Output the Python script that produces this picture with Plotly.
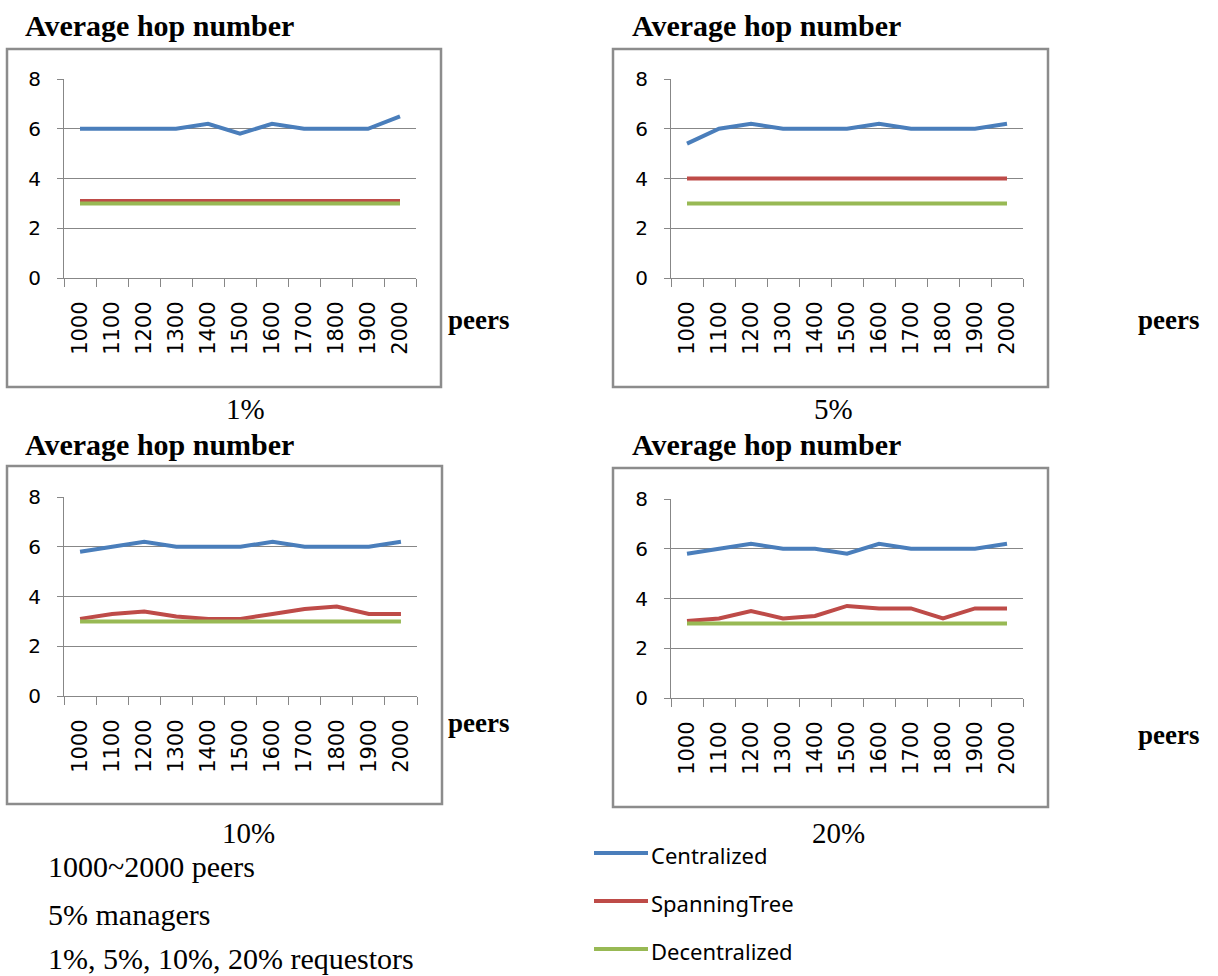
import plotly.graph_objects as go

W, H = 1218, 976

peers = ["1000", "1100", "1200", "1300", "1400", "1500",
         "1600", "1700", "1800", "1900", "2000"]

# requestor share per panel
panel_labels = ["1%", "5%", "10%", "20%"]

# Centralized average hop number
central_1 = [6.0, 6.0, 6.0, 6.0, 6.2, 5.8, 6.2, 6.0, 6.0, 6.0, 6.5]
central_5 = [5.4, 6.0, 6.2, 6.0, 6.0, 6.0, 6.2, 6.0, 6.0, 6.0, 6.2]
central_10 = [5.8, 6.0, 6.2, 6.0, 6.0, 6.0, 6.2, 6.0, 6.0, 6.0, 6.2]
central_20 = [5.8, 6.0, 6.2, 6.0, 6.0, 5.8, 6.2, 6.0, 6.0, 6.0, 6.2]

# SpanningTree average hop number
span_1 = [3.1, 3.1, 3.1, 3.1, 3.1, 3.1, 3.1, 3.1, 3.1, 3.1, 3.1]
span_5 = [4.0, 4.0, 4.0, 4.0, 4.0, 4.0, 4.0, 4.0, 4.0, 4.0, 4.0]
span_10 = [3.1, 3.3, 3.4, 3.2, 3.1, 3.1, 3.3, 3.5, 3.6, 3.3, 3.3]
span_20 = [3.1, 3.2, 3.5, 3.2, 3.3, 3.7, 3.6, 3.6, 3.2, 3.6, 3.6]

# Decentralized average hop number
decen_1 = [3, 3, 3, 3, 3, 3, 3, 3, 3, 3, 3]
decen_5 = [3, 3, 3, 3, 3, 3, 3, 3, 3, 3, 3]
decen_10 = [3, 3, 3, 3, 3, 3, 3, 3, 3, 3, 3]
decen_20 = [3, 3, 3, 3, 3, 3, 3, 3, 3, 3, 3]

series_names = ["Centralized", "SpanningTree", "Decentralized"]
series_colors = {"Centralized": "#4A7EBB",
                 "SpanningTree": "#BE4B48",
                 "Decentralized": "#98B954"}

panel_data = [
    (central_1, span_1, decen_1),
    (central_5, span_5, decen_5),
    (central_10, span_10, decen_10),
    (central_20, span_20, decen_20),
]

y_ticks = [0, 2, 4, 6, 8]

notes = ["1000~2000 peers", "5% managers", "1%, 5%, 10%, 20% requestors"]


def px(x):
    return x / W


def py(y):
    return 1 - y / H


# pixel layout of each panel: plot area (left, right, top(8), bottom(0)),
# frame box, and label anchors
panels = [
    dict(plot=(64, 416, 79, 278), box=(7, 441, 49, 387),
         title=(24, 25), peers=(447, 320), pct=(245, 409)),
    dict(plot=(671, 1023, 79, 278), box=(613, 1048, 49, 387),
         title=(631, 25), peers=(1137, 320), pct=(833, 409)),
    dict(plot=(64, 417, 497, 696), box=(7, 442, 466, 804),
         title=(24, 444), peers=(447, 723), pct=(248, 833)),
    dict(plot=(671, 1023, 499, 698), box=(613, 1048, 468, 807),
         title=(631, 444), peers=(1137, 735), pct=(838, 833)),
]

GRID = "#878787"
SERIF = "Liberation Serif, Times New Roman, serif"
TICKFONT = "DejaVu Sans, sans-serif"

fig = go.Figure()
layout = dict(
    width=W, height=H,
    margin=dict(l=0, r=0, t=0, b=0, pad=0, autoexpand=False),
    paper_bgcolor="white", plot_bgcolor="white",
    showlegend=False,
)
shapes = []
annotations = []

for i, (p, data) in enumerate(zip(panels, panel_data)):
    n = "" if i == 0 else str(i + 1)
    xa, ya = "x" + n, "y" + n
    l, r, t, b = p["plot"]
    for name, vals in zip(series_names, data):
        fig.add_trace(go.Scatter(
            x=peers, y=vals, mode="lines", name=name,
            line=dict(color=series_colors[name], width=4),
            xaxis=xa, yaxis=ya, hoverinfo="x+y+name",
        ))
    layout["xaxis" + n] = dict(
        domain=[px(l), px(r)], anchor=ya, type="category",
        range=[-0.5, len(peers) - 0.5], automargin=False,
        showgrid=False, zeroline=False,
        showline=True, linecolor=GRID, linewidth=1,
        ticks="outside", ticklen=8, tickcolor=GRID, tickwidth=1,
        tickson="boundaries", tickangle=-90,
        ticklabelstandoff=14,
        tickfont=dict(family=TICKFONT, size=21, color="black"),
    )
    layout["yaxis" + n] = dict(
        domain=[py(b), py(t)], anchor=xa, automargin=False,
        range=[0, 8], tickvals=y_ticks,
        showgrid=True, gridcolor=GRID, gridwidth=1,
        zeroline=False,
        showline=True, linecolor=GRID, linewidth=1,
        ticks="outside", ticklen=6, tickcolor=GRID, tickwidth=1,
        ticklabelstandoff=12,
        tickfont=dict(family=TICKFONT, size=20, color="black"),
    )
    bl, br, bt, bb = p["box"]
    shapes.append(dict(type="rect", xref="paper", yref="paper",
                       x0=px(bl), x1=px(br), y0=py(bb), y1=py(bt),
                       line=dict(color="#8C8C8C", width=2.5),
                       layer="below"))
    tx, ty = p["title"]
    annotations.append(dict(text="<b>Average hop number</b>",
                            x=px(tx), y=py(ty), xref="paper", yref="paper",
                            xanchor="left", yanchor="middle", showarrow=False,
                            borderpad=0,
                            font=dict(family=SERIF, size=30, color="black")))
    qx, qy = p["peers"]
    annotations.append(dict(text="<b>peers</b>",
                            x=px(qx), y=py(qy), xref="paper", yref="paper",
                            xanchor="left", yanchor="middle", showarrow=False,
                            borderpad=0,
                            font=dict(family=SERIF, size=27, color="black")))
    cx, cy = p["pct"]
    annotations.append(dict(text=panel_labels[i],
                            x=px(cx), y=py(cy), xref="paper", yref="paper",
                            xanchor="center", yanchor="middle", showarrow=False,
                            borderpad=0,
                            font=dict(family=SERIF, size=29, color="black")))

# legend drawn as line swatches with labels
legend_y = [853, 901, 949]
for name, ly in zip(series_names, legend_y):
    shapes.append(dict(type="line", xref="paper", yref="paper",
                       x0=px(594), x1=px(648), y0=py(ly), y1=py(ly),
                       line=dict(color=series_colors[name], width=4)))
    annotations.append(dict(text=name, x=px(650), y=py(ly + 2),
                            xref="paper", yref="paper",
                            xanchor="left", yanchor="middle", showarrow=False,
                            borderpad=0,
                            font=dict(family="Noto Sans, sans-serif", size=22,
                                      color="black")))

# setup notes; the last line sits on the bottom edge
note_y = [866, 914, 976]
note_anchor = ["middle", "middle", "bottom"]
for note, ny, anc in zip(notes, note_y, note_anchor):
    annotations.append(dict(text=note, x=px(47), y=py(ny),
                            xref="paper", yref="paper",
                            xanchor="left", yanchor=anc, showarrow=False,
                            borderpad=0,
                            font=dict(family=SERIF, size=30, color="black")))

layout["shapes"] = shapes
layout["annotations"] = annotations
fig.update_layout(**layout)

fig.write_html("out.html")
